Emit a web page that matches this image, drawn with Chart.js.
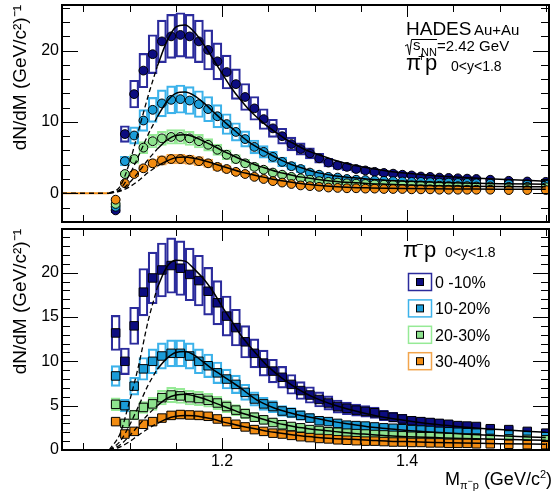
<!DOCTYPE html>
<html>
<head>
<meta charset="utf-8">
<script src="https://cdn.jsdelivr.net/npm/chart.js@4.4.1/dist/chart.umd.min.js"></script>
<style>
  body { margin: 0; background: #fff; }
  #wrap { position: relative; width: 553px; height: 496px; }
  canvas { position: absolute; left: 0; }
  #top { top: 0; }
  #bot { top: 226px; }
</style>
</head>
<body>
<div id="wrap">
  <canvas id="top" width="553" height="226"></canvas>
  <canvas id="bot" width="553" height="270"></canvas>
</div>
<script>
Chart.defaults.font.family = '"Liberation Sans", Arial, sans-serif';
Chart.defaults.color = '#000';

// mass bin centres (GeV/c2)
const massBins = [1.085, 1.095, 1.105, 1.115, 1.125, 1.135, 1.145, 1.155, 1.165, 1.175,
  1.185, 1.195, 1.205, 1.215, 1.225, 1.235, 1.245, 1.255, 1.265, 1.275,
  1.285, 1.295, 1.305, 1.315, 1.325, 1.335, 1.345, 1.355, 1.365, 1.375,
  1.385, 1.395, 1.405, 1.415, 1.425, 1.435, 1.445, 1.455, 1.465, 1.475,
  1.49, 1.51, 1.53, 1.55];

const centralities = ['0 -10%', '10-20%', '20-30%', '30-40%'];
const fillColors = ['#0c0c80', '#1a9cd8', '#8ee28e', '#f28c12'];
const boxColors = ['#2b2b9c', '#3cb2ea', '#96ea96', '#f2a54c'];

// pi+ p spectra
const pipC1 = [-2.4, 8.3, 13.9, 17.2, 19.5, 21.3, 22.0, 22.2, 22.0, 21.3,
  20.1, 18.5, 17.0, 15.3, 13.5, 11.9, 10.4, 9.1, 8.0, 6.9,
  6.2, 5.6, 4.9, 4.3, 3.9, 3.7, 3.4, 3.2, 3.0, 2.85,
  2.75, 2.6, 2.5, 2.35, 2.3, 2.2, 2.15, 2.1, 2.05, 2.0,
  1.9, 1.75, 1.65, 1.6];
const pipC2 = [-1.9, 4.5, 8.1, 10.2, 11.7, 12.6, 13.1, 13.2, 13.0, 12.5,
  11.8, 10.8, 9.7, 8.6, 7.6, 6.5, 5.8, 5.1, 4.4, 3.8,
  3.4, 2.9, 2.6, 2.3, 2.2, 2.0, 1.9, 1.85, 1.8, 1.75,
  1.7, 1.65, 1.6, 1.6, 1.55, 1.5, 1.5, 1.45, 1.45, 1.4,
  1.35, 1.3, 1.25, 1.2];
const pipC3 = [-1.5, 2.7, 4.8, 6.4, 7.3, 7.7, 7.9, 7.9, 7.7, 7.3,
  6.8, 6.1, 5.4, 4.8, 4.2, 3.7, 3.3, 2.9, 2.6, 2.3,
  2.1, 1.9, 1.7, 1.6, 1.5, 1.4, 1.35, 1.3, 1.25, 1.2,
  1.2, 1.15, 1.1, 1.1, 1.05, 1.05, 1.0, 1.0, 1.0, 0.95,
  0.95, 0.9, 0.9, 0.85];
const pipC4 = [-0.9, 1.4, 2.7, 3.5, 4.2, 4.6, 4.8, 4.8, 4.7, 4.5,
  4.2, 3.7, 3.4, 3.0, 2.7, 2.3, 2.0, 1.7, 1.5, 1.3,
  1.1, 1.0, 0.9, 0.8, 0.75, 0.7, 0.7, 0.65, 0.65, 0.6,
  0.6, 0.6, 0.55, 0.55, 0.55, 0.5, 0.5, 0.5, 0.5, 0.5,
  0.5, 0.45, 0.45, 0.45];

// pi- p spectra
const pimC1 = [13.2, 10.0, 14.0, 17.8, 19.4, 20.3, 20.8, 20.5, 19.8, 19.1,
  17.9, 16.6, 15.1, 13.8, 12.2, 10.9, 9.8, 8.9, 8.2, 7.4,
  6.7, 6.2, 5.7, 5.3, 4.9, 4.7, 4.5, 4.35, 4.2, 3.9,
  3.7, 3.5, 3.3, 3.2, 3.1, 3.0, 2.9, 2.75, 2.7, 2.65,
  2.4, 2.3, 2.1, 1.9];
const pimC2 = [8.35, 5.0, 7.2, 9.15, 10.0, 10.6, 10.9, 10.9, 10.6, 10.0,
  9.5, 8.7, 8.0, 7.4, 6.5, 5.75, 5.2, 4.9, 4.4, 4.2,
  3.9, 3.6, 3.3, 3.2, 3.0, 2.8, 2.75, 2.7, 2.6, 2.5,
  2.45, 2.4, 2.3, 2.25, 2.2, 2.1, 2.05, 2.0, 1.95, 1.9,
  1.8, 1.7, 1.6, 1.5];
const pimC3 = [5.15, 3.0, 3.95, 4.8, 5.2, 5.9, 6.2, 6.1, 5.9, 5.8,
  5.6, 5.3, 4.9, 4.5, 4.1, 3.7, 3.4, 3.1, 2.85, 2.65,
  2.5, 2.3, 2.2, 2.05, 2.0, 1.9, 1.85, 1.8, 1.75, 1.7,
  1.65, 1.6, 1.55, 1.5, 1.5, 1.45, 1.4, 1.4, 1.35, 1.35,
  1.3, 1.25, 1.2, 1.15];
const pimC4 = [3.2, 1.8, 2.1, 2.9, 3.2, 3.6, 3.9, 4.0, 3.95, 3.9,
  3.8, 3.5, 3.2, 2.9, 2.6, 2.3, 2.1, 1.9, 1.8, 1.65,
  1.5, 1.4, 1.3, 1.25, 1.15, 1.1, 1.05, 1.0, 1.0, 0.95,
  0.9, 0.9, 0.85, 0.85, 0.8, 0.8, 0.75, 0.75, 0.75, 0.7,
  0.7, 0.65, 0.6, 0.6];

// relative systematic box half-heights
const sysPip = [0.14, 0.15, 0.13, 0.14];
const sysPim = [0.15, 0.14, 0.14, 0.12];

// fit curves (dashed below fitSplit)
const fitMass = [1.078, 1.09, 1.10, 1.11, 1.12, 1.13, 1.14, 1.15, 1.16, 1.17,
  1.18, 1.19, 1.20, 1.21, 1.22, 1.23, 1.24, 1.25, 1.26, 1.27,
  1.28, 1.29, 1.30, 1.32, 1.34, 1.36, 1.38, 1.40, 1.43, 1.46, 1.50, 1.55];
const fitSplit = 1.13;
const pipFit1 = [0, 1.0, 4.3, 8.9, 13.6, 17.8, 21.2, 23.3, 23.6, 22.6,
  20.9, 18.9, 16.8, 14.8, 13.1, 11.6, 10.4, 9.3, 8.4, 7.5,
  6.8, 6.1, 5.6, 4.7, 4.0, 3.5, 3.1, 2.8, 2.45, 2.2, 1.95, 1.7];
const pipFit2 = [0, 0.6, 2.6, 5.3, 8.2, 10.7, 12.8, 14.0, 14.2, 13.7,
  12.7, 11.5, 10.3, 9.2, 8.1, 7.1, 6.3, 5.6, 4.9, 4.3,
  3.8, 3.4, 3.0, 2.5, 2.2, 1.95, 1.8, 1.7, 1.55, 1.45, 1.35, 1.25];
const pipFit3 = [0, 0.4, 1.5, 3.0, 4.7, 6.2, 7.4, 8.1, 8.2, 7.9,
  7.3, 6.7, 6.0, 5.4, 4.8, 4.3, 3.8, 3.4, 3.0, 2.7,
  2.4, 2.2, 2.0, 1.7, 1.5, 1.35, 1.25, 1.15, 1.05, 1.0, 0.95, 0.9];
const pipFit4 = [0, 0.3, 0.9, 1.8, 2.9, 3.8, 4.5, 5.0, 5.1, 4.9,
  4.6, 4.2, 3.8, 3.4, 3.0, 2.7, 2.4, 2.1, 1.85, 1.65,
  1.45, 1.3, 1.15, 0.95, 0.82, 0.75, 0.7, 0.66, 0.62, 0.6, 0.57, 0.55];
const pimFit1 = [0, 1.9, 5.5, 9.6, 14.5, 18.3, 20.6, 21.4, 21.3, 20.4,
  19.3, 17.9, 16.2, 14.6, 13.0, 11.7, 10.5, 9.4, 8.5, 7.7,
  7.0, 6.4, 5.9, 5.1, 4.5, 4.0, 3.6, 3.3, 2.9, 2.6, 2.3, 2.0];
const pimFit2 = [0, 1.0, 2.8, 5.0, 7.3, 9.1, 10.3, 11.0, 11.1, 10.7,
  9.9, 9.1, 8.4, 7.7, 7.0, 6.2, 5.5, 5.0, 4.6, 4.3,
  4.0, 3.8, 3.6, 3.2, 2.9, 2.6, 2.4, 2.2, 2.0, 1.8, 1.6, 1.4];
const pimFit3 = [0, 0.6, 1.6, 2.8, 4.0, 5.0, 5.8, 6.2, 6.3, 6.1,
  5.8, 5.4, 5.0, 4.6, 4.2, 3.9, 3.6, 3.3, 3.0, 2.8,
  2.6, 2.45, 2.3, 2.1, 1.9, 1.75, 1.6, 1.5, 1.4, 1.3, 1.2, 1.1];
const pimFit4 = [0, 0.35, 0.95, 1.7, 2.4, 3.0, 3.5, 3.8, 3.9, 3.85,
  3.7, 3.5, 3.2, 2.95, 2.7, 2.5, 2.3, 2.1, 1.95, 1.8,
  1.65, 1.55, 1.45, 1.3, 1.2, 1.1, 1.0, 0.95, 0.85, 0.8, 0.7, 0.65];

// below threshold everything sits at zero
const zeroMass = [1.027, 1.078];

// axes
const massMin = 1.027, massMax = 1.5535;
const massTicks = [1.05, 1.1, 1.15, 1.2, 1.25, 1.3, 1.35, 1.4, 1.45, 1.5, 1.55];
const massTickLabels = [1.2, 1.4];
const topMinorTicks = [-4, -2, 0, 2, 4, 6, 8, 10, 12, 14, 16, 18, 20, 22, 24, 26];
const topTickLabels = [0, 10, 20];
const botMinorTicks = [0, 1, 2, 3, 4, 5, 6, 7, 8, 9, 10, 11, 12, 13, 14, 15, 16, 17, 18, 19, 20, 21, 22, 23, 24];
const botTickLabels = [0, 5, 10, 15, 20];

function makeDatasets(series, fits, sys, style, radius) {
  let ds = [];
  fits.forEach(f => {
    const pts = fitMass.map((x, i) => ({x: x, y: f[i]}));
    ds.push({type: 'line', data: pts.filter(p => p.x >= fitSplit), borderColor: '#000', borderWidth: 1.5,
      pointRadius: 0, cubicInterpolationMode: 'monotone'});
    ds.push({type: 'line', data: pts.filter(p => p.x <= fitSplit), borderColor: '#000', borderWidth: 1.3,
      borderDash: [5, 3], pointRadius: 0, cubicInterpolationMode: 'monotone'});
  });
  ds.push({type: 'line', data: zeroMass.map(x => ({x: x, y: 0})), borderColor: '#000', borderWidth: 1.5,
    borderDash: [5, 4], pointRadius: 0});
  ds.push({type: 'line', data: zeroMass.map(x => ({x: x, y: 0})), borderColor: fillColors[3], borderWidth: 2,
    pointRadius: 0});
  for (let k = 3; k >= 0; k--) {
    ds.push({type: 'scatter', data: massBins.map((x, i) => ({x: x, y: series[k][i]})),
      pointStyle: style, pointRadius: radius, pointBackgroundColor: fillColors[k],
      pointBorderColor: '#000', pointBorderWidth: 1});
  }
  for (let k = 3; k >= 0; k--) {
    ds.push({type: 'bar', grouped: false, barThickness: 9, borderSkipped: false,
      data: massBins.map((x, i) => ({x: x, y: [series[k][i] * (1 - sys[k]), series[k][i] * (1 + sys[k])]})),
      backgroundColor: 'rgba(0,0,0,0)', borderColor: boxColors[k], borderWidth: 1.5});
  }
  return ds;
}

function yAxis(min, max, labels) {
  return {
    type: 'linear', min: min, max: max, beginAtZero: false,
    afterBuildTicks: s => { s.ticks = labels.map(v => ({value: v})); },
    afterFit: s => { s.width = 62; s.paddingTop = 0; s.paddingBottom = 0; },
    grid: {display: false, drawTicks: false},
    border: {display: false},
    ticks: {font: {size: 16}, padding: 3, color: '#000'},
    title: {display: true, text: 'dN/dM (GeV/c²)⁻¹', align: 'end', font: {size: 19},
      padding: {top: 9, bottom: 0}, color: '#000'}
  };
}

const frameTicks = {
  id: 'frameTicks',
  afterDraw(chart, args, o) {
    const {ctx, chartArea: a} = chart;
    const x = chart.scales.x, y = chart.scales.y;
    ctx.save();
    ctx.strokeStyle = '#000';
    ctx.lineWidth = 1;
    ctx.beginPath();
    massTicks.forEach(v => {
      const px = Math.round(x.getPixelForValue(v)) + 0.5;
      const len = massTickLabels.includes(v) ? 12 : 7;
      ctx.moveTo(px, a.bottom); ctx.lineTo(px, a.bottom - len);
      ctx.moveTo(px, a.top); ctx.lineTo(px, a.top + len);
    });
    o.minor.forEach(v => {
      const py = Math.round(y.getPixelForValue(v)) + 0.5;
      const len = o.major.includes(v) ? 16 : 8;
      ctx.moveTo(a.left, py); ctx.lineTo(a.left + len, py);
      ctx.moveTo(a.right, py); ctx.lineTo(a.right - len, py);
    });
    ctx.stroke();
    ctx.lineWidth = 2;
    ctx.strokeRect(a.left, a.top, a.right - a.left, a.bottom - a.top);
    ctx.restore();
  }
};

const topNotes = {
  id: 'topNotes',
  afterDraw(chart) {
    const ctx = chart.ctx;
    const f = s => s + 'px "Liberation Sans", Arial, sans-serif';
    ctx.save();
    ctx.fillStyle = '#000';
    ctx.font = f(19); ctx.fillText('HADES', 406, 35);
    ctx.font = f(15); ctx.fillText('Au+Au', 474, 35);
    ctx.strokeStyle = '#000'; ctx.lineWidth = 1;
    ctx.beginPath();
    ctx.moveTo(405, 46); ctx.lineTo(407.5, 44.5); ctx.lineTo(409.5, 55); ctx.lineTo(411.5, 39.5); ctx.lineTo(437, 39.5);
    ctx.stroke();
    ctx.font = f(15); ctx.fillText('s', 413, 50);
    ctx.font = f(11); ctx.fillText('NN', 421, 56);
    ctx.font = f(15); ctx.fillText('=2.42 GeV', 437, 51);
    ctx.font = f(22); ctx.fillText('π', 406, 70); ctx.fillText('p', 425, 70);
    ctx.font = f(12); ctx.fillText('+', 418, 61);
    ctx.font = f(14); ctx.fillText('0<y<1.8', 451, 71);
    ctx.restore();
  }
};

const botNotes = {
  id: 'botNotes',
  afterDraw(chart) {
    const ctx = chart.ctx;
    const f = s => s + 'px "Liberation Sans", Arial, sans-serif';
    ctx.save();
    ctx.fillStyle = '#000';
    ctx.font = f(22); ctx.fillText('π', 403, 31); ctx.fillText('p', 424, 31);
    ctx.font = f(13); ctx.fillText('−', 416, 23);
    ctx.font = f(14); ctx.fillText('0<y<1.8', 445, 31);
    // legend
    centralities.forEach((lab, k) => {
      const cy = 56 + k * 26.4;
      ctx.strokeStyle = boxColors[k]; ctx.lineWidth = 1.5;
      ctx.strokeRect(408.5, cy - 8.5, 23, 17);
      ctx.fillStyle = fillColors[k]; ctx.fillRect(416.5, cy - 3.5, 7, 7);
      ctx.strokeStyle = '#000'; ctx.lineWidth = 1; ctx.strokeRect(416.5, cy - 3.5, 7, 7);
      ctx.fillStyle = '#000'; ctx.font = f(16); ctx.fillText(lab, 435, cy + 6);
    });
    // x axis title, right aligned
    const parts = [['M', 18, 0], ['π', 11, 4], ['−', 9, -1], ['p', 11, 4], [' (GeV/c', 18, 0], ['2', 11, -7], [')', 18, 0]];
    let total = 0;
    parts.forEach(p => { ctx.font = f(p[1]); total += ctx.measureText(p[0]).width; });
    let cx = 552 - total;
    parts.forEach(p => {
      ctx.font = f(p[1]);
      ctx.fillText(p[0], cx, 259 + p[2]);
      cx += ctx.measureText(p[0]).width;
    });
    ctx.restore();
  }
};

new Chart(document.getElementById('top'), {
  type: 'scatter',
  data: {datasets: makeDatasets([pipC1, pipC2, pipC3, pipC4], [pipFit1, pipFit2, pipFit3, pipFit4], sysPip, 'circle', 4.4)},
  options: {
    responsive: false, animation: false, devicePixelRatio: 1,
    layout: {padding: {left: 0, right: 4, top: 5, bottom: 4}, autoPadding: false},
    plugins: {legend: {display: false}, tooltip: {enabled: false},
      frameTicks: {minor: topMinorTicks, major: topTickLabels}},
    scales: {
      x: {type: 'linear', min: massMin, max: massMax, offset: false, display: false},
      y: yAxis(-4.03, 26.4, topTickLabels)
    }
  },
  plugins: [frameTicks, topNotes]
});

new Chart(document.getElementById('bot'), {
  type: 'scatter',
  data: {datasets: makeDatasets([pimC1, pimC2, pimC3, pimC4], [pimFit1, pimFit2, pimFit3, pimFit4], sysPim, 'rect', 6)},
  options: {
    responsive: false, animation: false, devicePixelRatio: 1,
    layout: {padding: {left: 0, right: 4, top: 3, bottom: 0}, autoPadding: false},
    plugins: {legend: {display: false}, tooltip: {enabled: false},
      frameTicks: {minor: botMinorTicks, major: botTickLabels}},
    scales: {
      x: {
        type: 'linear', min: massMin, max: massMax, offset: false,
        afterBuildTicks: s => { s.ticks = massTickLabels.map(v => ({value: v})); },
        afterFit: s => { s.height = 46; s.paddingLeft = 0; s.paddingRight = 0; },
        grid: {display: false, drawTicks: false, offset: false},
        border: {display: false},
        ticks: {font: {size: 16}, padding: 2, maxRotation: 0, autoSkip: false, color: '#000'}
      },
      y: yAxis(0, 24.92, botTickLabels)
    }
  },
  plugins: [frameTicks, botNotes]
});
</script>
</body>
</html>
